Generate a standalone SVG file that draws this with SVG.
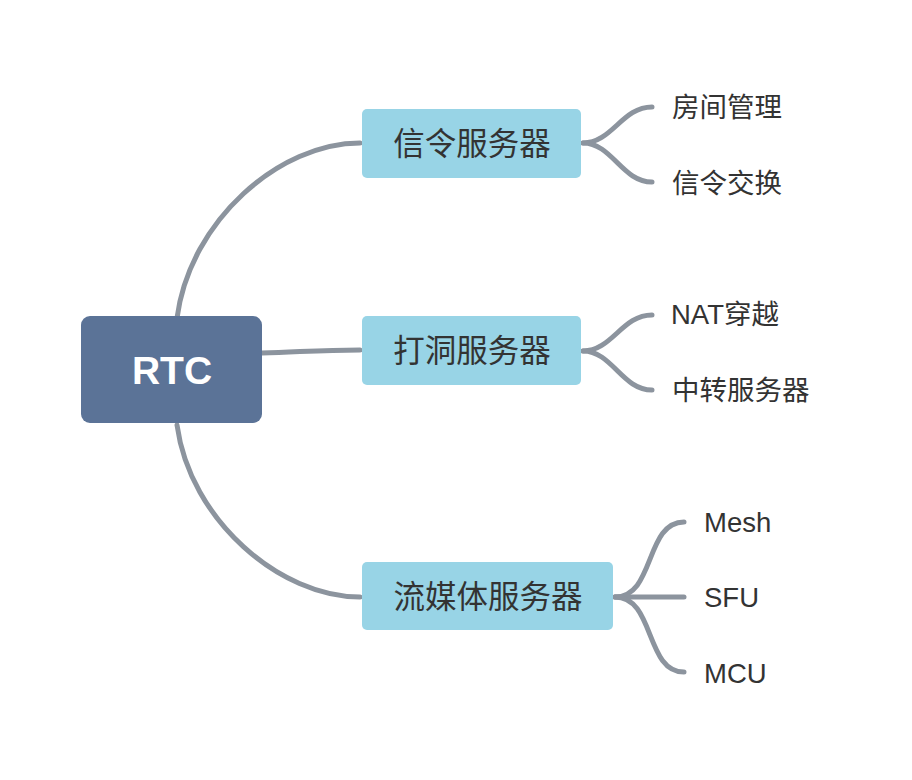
<svg xmlns="http://www.w3.org/2000/svg" width="912" height="780" viewBox="0 0 912 780">
<style>
.root{fill:#5B7397}
.node{fill:#98D4E6}
.lt{font-family:"Liberation Sans","Noto Sans CJK SC",sans-serif;fill:#333333;dominant-baseline:central}
.nt{font-size:31.5px;text-anchor:middle}
.leaf{font-size:27.5px}
.rt{font-family:"Liberation Sans",sans-serif;font-weight:bold;font-size:39px;fill:#FFFFFF;text-anchor:middle;dominant-baseline:central}
.c{fill:none;stroke:#8C949E;stroke-width:5;stroke-linecap:round}
</style>
<rect width="912" height="780" fill="#FFFFFF"/>
<g id="connectors">
<path class="c" d="M177,318 C190,220 280,143 360,143"/>
<path class="c" d="M262,353 C300,352 320,350 360,350"/>
<path class="c" d="M177,425 C190,520 280,597 360,597"/>
<path class="c" d="M583,143 C612,143 622,107 652,107"/>
<path class="c" d="M583,143 C612,143 622,182 652,182"/>
<path class="c" d="M583,351 C612,351 622,315 652,315"/>
<path class="c" d="M583,351 C612,351 622,390 652,390"/>
<path class="c" d="M615,597 C655,597 645,522 684,522"/>
<path class="c" d="M615,597 L684,597"/>
<path class="c" d="M615,597 C655,597 645,672 684,672"/>
</g>
<g id="root">
<rect class="root" x="81" y="316" width="181" height="107" rx="9"/>
<text class="rt" x="172" y="370">RTC</text>
</g>
<g id="n1">
<rect class="node" x="362" y="109" width="219" height="69" rx="5"/>
<text class="lt nt" x="472" y="144">信令服务器</text>
</g>
<g id="n2">
<rect class="node" x="362" y="316" width="219" height="69" rx="5"/>
<text class="lt nt" x="472" y="351">打洞服务器</text>
</g>
<g id="n3">
<rect class="node" x="362" y="562" width="251" height="68" rx="5"/>
<text class="lt nt" x="488" y="597">流媒体服务器</text>
</g>
<g id="l1"><text class="lt leaf" x="672" y="107">房间管理</text></g>
<g id="l2"><text class="lt leaf" x="672" y="183">信令交换</text></g>
<g id="l3"><text class="lt leaf" x="671" y="314">NAT穿越</text></g>
<g id="l4"><text class="lt leaf" x="672" y="390">中转服务器</text></g>
<g id="l5"><text class="lt leaf" x="704" y="522">Mesh</text></g>
<g id="l6"><text class="lt leaf" x="704" y="597">SFU</text></g>
<g id="l7"><text class="lt leaf" x="704" y="673">MCU</text></g>
</svg>
